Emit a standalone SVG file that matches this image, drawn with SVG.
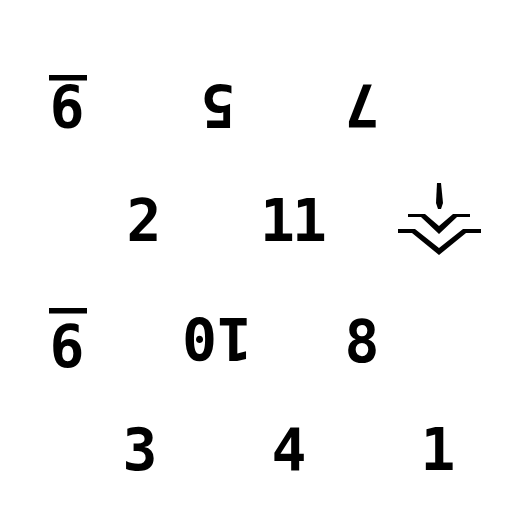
<svg xmlns="http://www.w3.org/2000/svg" width="512" height="512" viewBox="0 0 512 512">
<style>text{font-family:"DejaVu Sans Mono",monospace;font-weight:700;font-size:58px;fill:#000;text-anchor:middle}</style>
<rect width="512" height="512" fill="#fff"/>
<text transform="translate(67 85) rotate(180)">9</text>
<rect x="49" y="75" width="38" height="5.500"/>
<text transform="translate(218 85) rotate(180)">5</text>
<text transform="translate(362 85) rotate(180)">7</text>
<text x="144" y="241">2</text>
<text x="292" y="241" letter-spacing="-3">11</text>
<text x="67" y="367">6</text>
<rect x="49" y="308" width="38" height="5.500"/>
<text transform="translate(217 318) rotate(180)">10</text>
<text x="362" y="362">8</text>
<text x="140" y="470">3</text>
<text x="289" y="470">4</text>
<text x="438" y="470">1</text>
<path d="M437 183h4l2 20l-2 6h-3l-2-6z"/>
<path d="M408 214h17l14 12l14-12h17v3h-13l-18 17l-18-17h-13z"/>
<path d="M398 229h17l24 19l24-19h18v4h-15l-27 22l-27-22h-14z"/>
</svg>
